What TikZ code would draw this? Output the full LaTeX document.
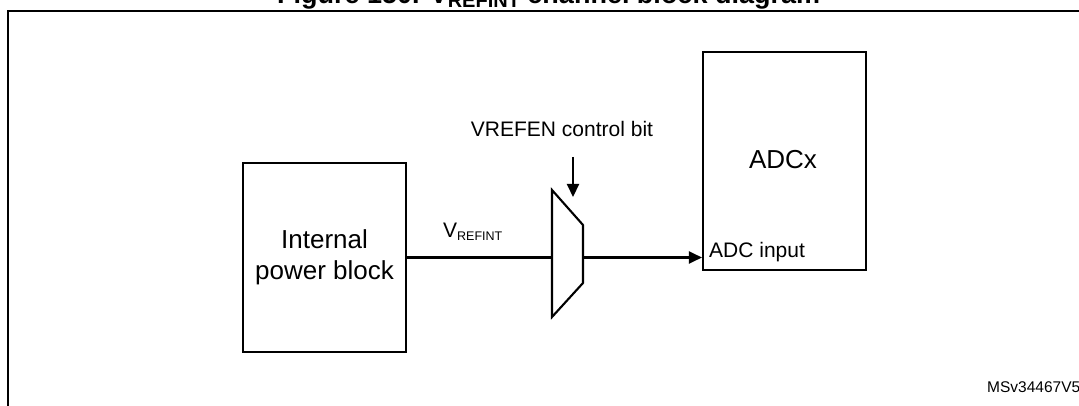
\documentclass[tikz,border=0pt]{standalone}
\usepackage{fontspec}
\setmainfont{Liberation Sans}
\usetikzlibrary{arrows.meta,positioning}

\tikzset{
  block/.style={draw,line width=2.1pt,minimum width=163pt,inner sep=0pt,align=center},
  wire/.style={line width=2.1pt},
  sig/.style={wire,-{Triangle[length=13pt,width=12pt]}},
  lbl/.style={inner sep=0pt,anchor=base west}
}

\begin{document}
\begin{tikzpicture}[x=1pt,y=-1pt]
    \useasboundingbox (0,0) rectangle (1079,406);
    \clip (0,0) rectangle (1079,406);
    % frame and title
    \draw[line width=2pt] (7.5,420) -- (7.5,11) -- (1100,11);
    \node[lbl,font=\bfseries\fontsize{27}{27}\selectfont] (title) at (277,3.3)
        {Figure 150. V\raisebox{-4pt}{\fontsize{20}{20}\selectfont REFINT} channel block diagram};
    % blocks
    \node[block,minimum height=189pt,font=\fontsize{26}{31}\selectfont] (pwr) at (324.5,257.5) {Internal\\power block};
    \node[block,minimum height=218pt] (adc) at (784.5,161) {};
    \node[inner sep=0pt,anchor=base,font=\fontsize{26}{26}\selectfont] (adcx) at (783,169) {ADCx};
    % multiplexer
    \draw[wire] (552,190) -- (583,225) -- (583,283) -- (552,317) -- cycle;
    \coordinate (muxin) at (552,257.5);
    \coordinate (muxout) at (583,257.5);
    \coordinate (en) at (573,157);
    \coordinate (entip) at (573,197);
    % connections
    \draw[wire] (pwr.east) -- (muxin);
    \draw[sig] (muxout) -- (adc.west |- muxout);
    \draw[sig] (en) -- (entip);
    % labels
    \node[inner sep=0pt,anchor=base,font=\fontsize{21}{21}\selectfont] (enlbl) at (562,137) {VREFEN control bit};
    \node[lbl,font=\fontsize{21}{21}\selectfont] (vref) at (443,237.3)
        {V\raisebox{-3.4pt}{\fontsize{12.5}{12.5}\selectfont REFINT}};
    \node[lbl,font=\fontsize{21}{21}\selectfont] (adcin) at (709,258) {ADC input};
    \node[lbl,font=\fontsize{15.5}{15.5}\selectfont] (code) at (987,392.7) {MSv34467V5};
\end{tikzpicture}
\end{document}
